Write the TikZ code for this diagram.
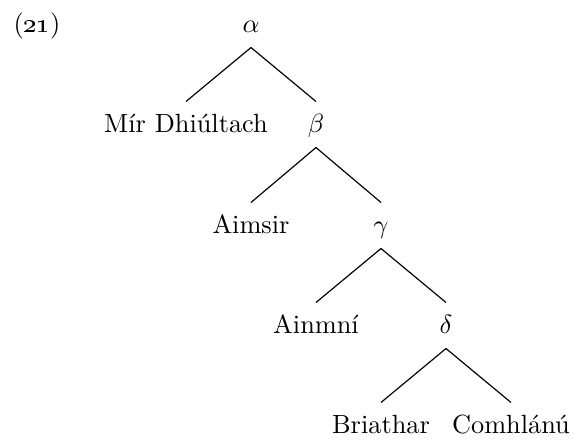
\documentclass[tikz,border=0pt]{standalone}
\begin{document}
\begin{tikzpicture}[x=0.38pt, y=-0.38pt,
  lbl/.style={anchor=base, inner xsep=0pt, inner ysep=4pt,
              text height=7.4pt, text depth=1.7pt},
  branch/.style={line width=0.45pt}]
  \useasboundingbox (0,0) rectangle (576,440);
  % example number
  \node[anchor=base west, inner sep=0pt] (num) at (13,32) {(\oldstylenums{21})};
  % tree nodes, baselines every ~100 units
  \node[lbl] (a)  at (251,32)  {$\alpha$};
  \node[lbl] (md) at (186,132) {Mír Dhiúltach};
  \node[lbl] (b)  at (316,132) {$\beta$};
  \node[lbl] (ai) at (251,233) {Aimsir};
  \node[lbl] (g)  at (381,233) {$\gamma$};
  \node[lbl] (an) at (316,333) {Ainmní};
  \node[lbl] (d)  at (446,333) {$\delta$};
  \node[lbl] (br) at (381,433) {Briathar};
  \node[lbl] (co) at (511,433) {Comhlánú};
  % branches
  \foreach \p/\c in {a/md, a/b, b/ai, b/g, g/an, g/d, d/br, d/co}
    \draw[branch] (\p.south) -- (\c.north);
\end{tikzpicture}
\end{document}
